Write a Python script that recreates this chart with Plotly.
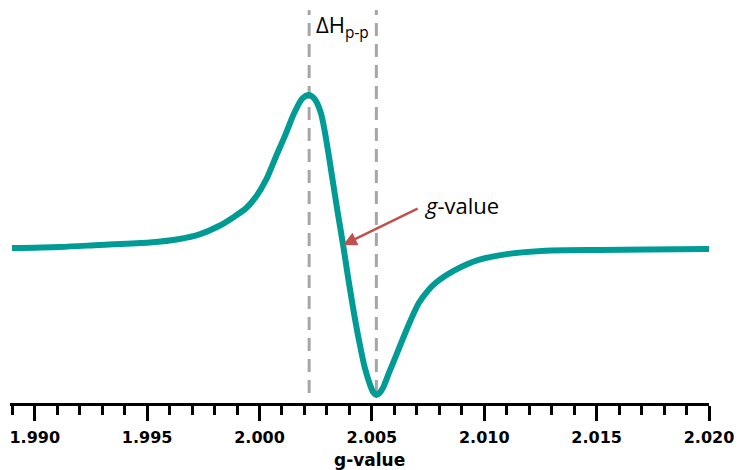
import plotly.graph_objects as go

# EPR first-derivative spectrum (arbitrary intensity units)
g_values = [1.98899, 1.99112, 1.99289, 1.99511, 1.99644, 1.99733, 1.99822,
            1.99888, 1.99940, 1.99985, 2.00029, 2.00073, 2.00118, 2.00154,
            2.00191, 2.00221, 2.00245, 2.00273, 2.00302, 2.00324, 2.00347,
            2.00372, 2.00396, 2.00421, 2.00445, 2.00469, 2.00494, 2.00507,
            2.00520, 2.00534, 2.00550, 2.00576, 2.00606, 2.00635, 2.00672,
            2.00709, 2.00746, 2.00783, 2.00872, 2.00975, 2.01108, 2.01271,
            2.01508, 2.01729, 2.02000]
intensity = [0.006, 0.013, 0.026, 0.042, 0.065, 0.095, 0.151,
             0.210, 0.264, 0.340, 0.448, 0.599, 0.751, 0.881,
             0.978, 1.000, 0.974, 0.883, 0.664, 0.461, 0.247,
             0.026, -0.201, -0.422, -0.610, -0.773, -0.890, -0.932,
             -0.948, -0.935, -0.900, -0.805, -0.699, -0.593, -0.464,
             -0.351, -0.277, -0.221, -0.136, -0.071, -0.032, -0.011,
             -0.006, -0.004, 0.000]

tick_vals = [1.990, 1.995, 2.000, 2.005, 2.010, 2.015, 2.020]
tick_text = ["1.990", "1.995", "2.000", "2.005", "2.010", "2.015", "2.020"]

# peak-to-peak positions
i_max = intensity.index(max(intensity))
i_min = intensity.index(min(intensity))
g_peak = g_values[i_max]
g_trough = g_values[i_min]

# point nearest the zero crossing, marked as the g-value
i_cross = min(range(i_max, i_min + 1), key=lambda i: abs(intensity[i]))
g_cross = g_values[i_cross]
y_cross = intensity[i_cross]

TEAL = "#009B95"
GREY = "#A6A6A6"
ARROW = "#C0504D"

fig = go.Figure()
fig.add_trace(go.Scatter(
    x=g_values, y=intensity, mode="lines",
    line=dict(color=TEAL, width=6, shape="spline", smoothing=0.8),
    hoverinfo="skip", showlegend=False,
))

for gx in (g_peak, g_trough):
    fig.add_shape(type="line", x0=gx, x1=gx, y0=-0.935, y1=1.552,
                  xref="x", yref="y",
                  line=dict(color=GREY, width=3, dash="13px,8px"), layer="below")

fig.add_annotation(
    x=(g_peak + g_trough) / 2, y=1.45, xref="x", yref="y",
    text="ΔH<sub>p-p</sub>", showarrow=False,
    font=dict(family="Open Sans", size=22, color="black"),
)

# arrow pointing at the crossing point
fig.add_annotation(
    x=g_cross, y=y_cross, xref="x", yref="y", text="",
    showarrow=True, ax=76, ay=-37, axref="pixel", ayref="pixel",
    arrowhead=2, arrowsize=1.1, arrowwidth=2.5, arrowcolor=ARROW,
)
fig.add_annotation(
    x=g_cross, y=y_cross, xref="x", yref="y",
    text="<i>g</i>-value", showarrow=False,
    xshift=118, yshift=40,
    font=dict(family="Open Sans", size=22, color="black"),
)

fig.add_annotation(
    x=0.5136, y=-0.143, xref="paper", yref="paper",
    text="<b>g-value</b>", showarrow=False, yanchor="middle",
    font=dict(family="DejaVu Sans", size=17, color="black"),
)

fig.update_xaxes(
    range=[1.9889, 2.0200],
    showline=True, linecolor="black", linewidth=3,
    showgrid=False, zeroline=False,
    tickmode="array", tickvals=tick_vals, ticktext=tick_text,
    ticks="outside", ticklen=15, tickwidth=3, tickcolor="black",
    ticklabelstandoff=3,
    tickfont=dict(family="DejaVu Sans", size=16, color="black", weight="bold"),
    minor=dict(dtick=0.001, tick0=1.989, ticks="outside", ticklen=9,
               tickwidth=3, tickcolor="black", showgrid=False),
)
fig.update_yaxes(range=[-1.0, 1.584], visible=False)

fig.update_layout(
    width=739, height=470,
    margin=dict(l=10, r=28, t=5, b=67),
    plot_bgcolor="white", paper_bgcolor="white",
)

fig.write_html("out.html")
